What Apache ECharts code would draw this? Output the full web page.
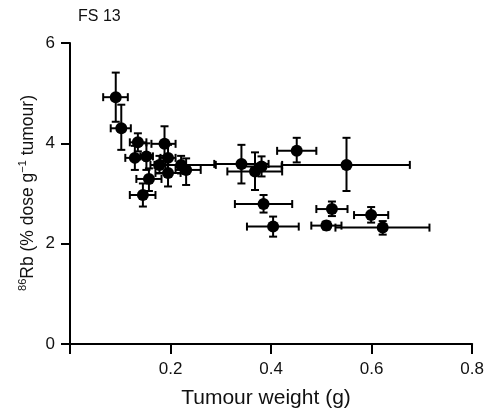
<!DOCTYPE html>
<html><head><meta charset="utf-8">
<script src="https://cdn.jsdelivr.net/npm/echarts@6/dist/echarts.min.js"></script>
<style>html,body{margin:0;padding:0;background:#fff}#c{width:487px;height:409px}</style>
</head><body><div id="c"></div>
<script>
// Tumour weight (g): centre, lower, upper error
const weight   = [0.091,0.102,0.135,0.188,0.129,0.152,0.195,0.178,0.221,0.231,0.195,0.157,0.145,0.341,0.368,0.381,0.451,0.550,0.385,0.404,0.521,0.510,0.599,0.622];
const weightLo = [0.066,0.081,0.119,0.162,0.110,0.140,0.180,0.168,0.160,0.210,0.170,0.132,0.119,0.287,0.313,0.341,0.412,0.422,0.328,0.352,0.490,0.480,0.565,0.528];
const weightHi = [0.115,0.121,0.152,0.210,0.148,0.165,0.210,0.190,0.290,0.260,0.220,0.182,0.170,0.395,0.422,0.421,0.490,0.676,0.442,0.455,0.552,0.540,0.633,0.715];
// 86Rb (% dose g-1 tumour): centre, lower, upper error
const rb   = [4.92,4.30,4.02,3.99,3.71,3.74,3.71,3.57,3.57,3.47,3.41,3.29,2.97,3.59,3.44,3.54,3.85,3.57,2.79,2.34,2.69,2.36,2.57,2.32];
const rbLo = [4.43,3.87,3.84,3.65,3.47,3.47,3.45,3.40,3.40,3.17,3.14,3.05,2.74,3.20,3.07,3.34,3.62,3.05,2.62,2.14,2.55,2.28,2.42,2.18];
const rbHi = [5.41,4.77,4.20,4.34,3.95,4.00,3.97,3.75,3.75,3.70,3.68,3.50,3.20,3.97,3.82,3.74,4.11,4.11,2.97,2.54,2.84,2.44,2.73,2.45];
const xTicks = [0, 0.2, 0.4, 0.6, 0.8];
const yTicks = [0, 2, 4, 6];

const FONT = '"Liberation Sans", Arial, sans-serif';
const chart = echarts.init(document.getElementById('c'));
const errData = weight.map((w, i) => [w, rb[i], weightLo[i], weightHi[i], rbLo[i], rbHi[i]]);
const ptData = weight.map((w, i) => [w, rb[i]]);

function renderErr(params, api) {
  const x = api.value(0), y = api.value(1);
  const xl = api.value(2), xh = api.value(3), yl = api.value(4), yh = api.value(5);
  const L = api.coord([xl, y]), R = api.coord([xh, y]);
  const T = api.coord([x, yh]), B = api.coord([x, yl]);
  const cap = 4;
  const st = {stroke: '#000', lineWidth: 2};
  const line = (x1, y1, x2, y2) => ({type: 'line', shape: {x1, y1, x2, y2}, style: st});
  return {type: 'group', children: [
    line(L[0], L[1], R[0], R[1]),
    line(L[0], L[1] - cap, L[0], L[1] + cap),
    line(R[0], R[1] - cap, R[0], R[1] + cap),
    line(T[0], T[1], B[0], B[1]),
    line(T[0] - cap, T[1], T[0] + cap, T[1]),
    line(B[0] - cap, B[1], B[0] + cap, B[1])
  ]};
}

chart.setOption({
  animation: false,
  backgroundColor: '#fff',
  textStyle: {fontFamily: FONT},
  grid: {left: 70, top: 43, right: 13, bottom: 65, containLabel: false},
  xAxis: {
    type: 'value', min: xTicks[0], max: xTicks[xTicks.length - 1], interval: 0.2,
    splitLine: {show: false},
    axisLine: {lineStyle: {color: '#000', width: 2}},
    axisTick: {inside: false, length: 10, lineStyle: {color: '#000', width: 2}},
    axisLabel: {margin: 17, fontSize: 17, color: '#111', fontFamily: FONT,
      formatter: v => v === 0 ? '' : v.toFixed(1)}
  },
  yAxis: {
    type: 'value', min: yTicks[0], max: yTicks[yTicks.length - 1], interval: 2,
    splitLine: {show: false},
    axisLine: {show: true, lineStyle: {color: '#000', width: 2}},
    axisTick: {show: true, inside: false, length: 9, lineStyle: {color: '#000', width: 2}},
    axisLabel: {margin: 15, fontSize: 17, color: '#111', fontFamily: FONT}
  },
  graphic: [
    {type: 'text', left: 78, top: 9, style: {text: 'FS 13', font: '16px ' + FONT, fill: '#111'}},
    {type: 'text', x: 266, y: 398, style: {text: 'Tumour weight (g)', font: '21px ' + FONT, fill: '#111', align: 'center', verticalAlign: 'middle'}},
    {type: 'text', x: 27, y: 193, rotation: Math.PI / 2,
      style: {
        text: '{sup|86}{n|Rb (% dose g}{sup|\u22121}{n| tumour)}',
        align: 'center', verticalAlign: 'middle', fill: '#111',
        rich: {
          n: {font: '17.5px ' + FONT, fill: '#111', verticalAlign: 'bottom', lineHeight: 20},
          sup: {font: '11px ' + FONT, fill: '#111', verticalAlign: 'top', padding: [0, 0, 8, 0], lineHeight: 20}
        }
      }}
  ],
  series: [
    {type: 'custom', renderItem: renderErr, data: errData, encode: {x: 0, y: 1}, z: 2, clip: false},
    {type: 'scatter', data: ptData, symbol: 'circle', symbolSize: 12, itemStyle: {color: '#000', opacity: 1}, z: 3}
  ]
});
</script></body></html>
